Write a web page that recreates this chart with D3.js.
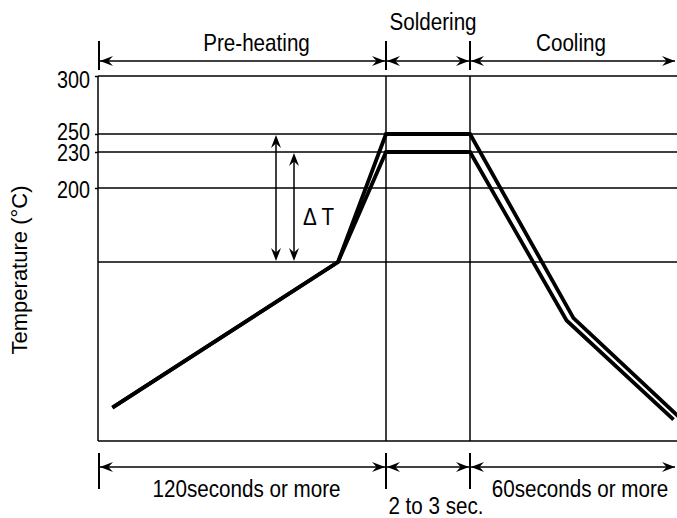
<!DOCTYPE html>
<html>
<head>
<meta charset="utf-8">
<script src="https://cdn.jsdelivr.net/npm/d3@7"></script>
<style>
  body { margin: 0; background: #fff; }
  svg { display: block; }
  text { font-family: "Liberation Sans", Arial, Helvetica, sans-serif; fill: #000; }
</style>
</head>
<body>
<div id="chart"></div>
<script>
// schematic reflow profile: [time s, temperature °C]
const profile250 = [[6, 28], [100, 150], [120, 250], [123, 250], [153, 103], [184, 19]];
const profile230 = [[6, 28], [100, 150], [120, 230], [123, 230], [151, 101], [182, 18]];
const tempTicks = [300, 250, 230, 200];
const gridTemps = [250, 230, 200, 150];
const phaseBounds = [0, 120, 123, 183];
const phaseTop = ['Pre-heating', 'Soldering', 'Cooling'];
const phaseBottom = ['120seconds or more', '2 to 3 sec.', '60seconds or more'];
const deltaTops = [250, 230];
const deltaBase = 150;

const W = 677, H = 518;
const svg = d3.select('#chart').append('svg').attr('width', W).attr('height', H);

// piecewise scales, the drawing is not to scale
const x = d3.scaleLinear().domain(phaseBounds).range([98, 386, 470, 677]);
const y = d3.scaleLinear().domain([0, 150, 200, 230, 250, 300]).range([441, 262, 188, 152, 134, 76]);

const SX = 0.86; // narrow text look

function label(g, txt, px, py, anchor, size) {
  return g.append('text')
    .attr('transform', `translate(${px},${py}) scale(${SX},1)`)
    .attr('text-anchor', anchor)
    .attr('font-size', size)
    .text(txt);
}

// arrow head with a notch, tip at (px,py), pointing at angle deg
function arrowHead(g, px, py, deg) {
  const L = 13, Wd = 5;
  g.append('path')
    .attr('d', `M0,0 L${-L},${-Wd} L${-L * 0.65},0 L${-L},${Wd} Z`)
    .attr('transform', `translate(${px},${py}) rotate(${deg})`)
    .attr('fill', '#000');
}

const frame = svg.append('g').attr('stroke', '#000').attr('stroke-width', 1.5);

// frame
frame.append('line').attr('x1', x(0)).attr('x2', x(0)).attr('y1', y(300)).attr('y2', y(0));
frame.append('line').attr('x1', x(0)).attr('x2', W).attr('y1', y(300)).attr('y2', y(300));
frame.append('line').attr('x1', x(0)).attr('x2', W).attr('y1', y(0)).attr('y2', y(0));

// horizontal reference lines
frame.selectAll('.grid').data(gridTemps).join('line')
  .attr('class', 'grid')
  .attr('x1', x(0)).attr('x2', W)
  .attr('y1', d => y(d)).attr('y2', d => y(d));

// phase boundaries
frame.selectAll('.vb').data(phaseBounds.slice(1, 3)).join('line')
  .attr('class', 'vb')
  .attr('x1', d => x(d)).attr('x2', d => x(d))
  .attr('y1', y(300)).attr('y2', y(0));

// y axis labels
const ga = svg.append('g').attr('transform', `translate(${x(0)},0)`)
  .call(d3.axisLeft(y).tickValues(tempTicks).tickSize(3).tickSizeOuter(0));
ga.select('.domain').remove();
ga.attr('font-family', null).attr('font-size', null);
ga.selectAll('.tick line').attr('stroke', '#000').attr('stroke-width', 1.5);
const nudge = { 300: 3, 250: -3, 230: 0, 200: 1 };
ga.selectAll('.tick text')
  .attr('x', null).attr('dy', null)
  .attr('fill', '#000')
  .attr('font-size', 23)
  .attr('text-anchor', 'end')
  .attr('transform', d => `translate(-8,${8 + nudge[d]}) scale(${SX},1)`);

// y title
svg.append('text')
  .attr('transform', `translate(27,270) rotate(-90)`)
  .attr('text-anchor', 'middle')
  .attr('font-size', 22)
  .text('Temperature (°C)');

// phase dimension bars
function dimBar(yy, t0, t1, texts, dx, baselines) {
  const g = svg.append('g');
  const xs = phaseBounds.map(d => x(d));
  const tickX = [xs[0] + 1, xs[1], xs[2]];
  tickX.forEach(px => {
    g.append('line').attr('x1', px).attr('x2', px).attr('y1', yy + t0).attr('y2', yy + t1)
      .attr('stroke', '#000').attr('stroke-width', 2);
  });
  g.append('line').attr('x1', tickX[0]).attr('x2', W - 2).attr('y1', yy).attr('y2', yy)
    .attr('stroke', '#000').attr('stroke-width', 1.5);
  for (let i = 0; i < 3; i++) {
    const a = tickX[i] + 1, b = i < 2 ? tickX[i + 1] - 1 : W - 2;
    arrowHead(g, a, yy, 180);
    arrowHead(g, b, yy, 0);
    label(g, texts[i], (a + b) / 2 + dx[i], baselines[i], 'middle', 24);
  }
}
dimBar(61, -20, 9, phaseTop, [14, 5, -2], [51, 30, 51]);
dimBar(467, -14, 22, phaseBottom, [4, 8, 7], [497, 514, 497]);

// ΔT arrows
const dg = svg.append('g');
const dX = [276, 294];
deltaTops.forEach((t, i) => {
  dg.append('line').attr('x1', dX[i]).attr('x2', dX[i])
    .attr('y1', y(t) + 4).attr('y2', y(deltaBase) - 4)
    .attr('stroke', '#000').attr('stroke-width', 1.5);
  arrowHead(dg, dX[i], y(t) + 1, -90);
  arrowHead(dg, dX[i], y(deltaBase) - 1, 90);
});
label(dg, 'Δ T', 303, 225, 'start', 24);

// profiles
const line = d3.line().x(d => x(d[0])).y(d => y(d[1]));
svg.append('g').selectAll('path').data([profile250, profile230]).join('path')
  .attr('d', line)
  .attr('fill', 'none')
  .attr('stroke', '#000')
  .attr('stroke-width', 3.8)
  .attr('stroke-linejoin', 'miter');
</script>
</body>
</html>
